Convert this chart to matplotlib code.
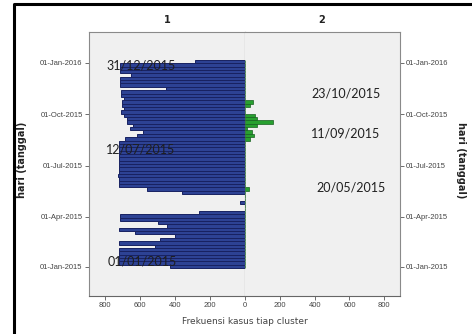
import datetime as dt
import matplotlib
matplotlib.use('Agg')
import matplotlib.pyplot as plt
import matplotlib.dates as mdates
from matplotlib.lines import Line2D

# histogram bins of 6 days, starting 30-Dec-2014
bin_start = dt.date(2014, 12, 30)
bin_days = 6

# cluster 1 counts per bin (bottom -> top)
cluster1 = [430, 720, 720, 720, 720, 720, 514, 720, 486, 400,
            629, 720, 446, 497, 714, 714, 262, 0, 0, 30,
            0, 0, 360, 560, 720, 718, 720, 722, 720, 720,
            719, 720, 720, 721, 720, 720, 718, 720, 686, 617,
            583, 657, 640, 673, 673, 690, 705, 690, 700, 700,
            690, 705, 705, 450, 714, 714, 714, 651, 714, 714,
            714, 286]

# cluster 2 counts per bin
cluster2 = [0, 0, 0, 0, 0, 0, 0, 0, 0, 0,
            0, 0, 0, 0, 0, 0, 0, 0, 0, 0,
            0, 0, 0, 25, 0, 0, 0, 0, 0, 0,
            0, 0, 0, 0, 0, 0, 0, 0, 30, 50,
            40, 10, 67, 158, 67, 60, 0, 0, 29, 44,
            0, 0, 0, 0, 0, 0, 0, 0, 0, 0,
            0, 0]

tick_dates = [dt.date(2015, 1, 1), dt.date(2015, 4, 1), dt.date(2015, 7, 1),
              dt.date(2015, 10, 1), dt.date(2016, 1, 1)]
freq_ticks_left = [200, 400, 600, 800]
freq_ticks_right = [0, 200, 400, 600, 800]

notes_left = ['31/12/2015', '12/07/2015', '01/01/2015']
notes_right = ['23/10/2015', '11/09/2015', '20/05/2015']

blue = '#2d4294'
blue_edge = '#182262'
green = '#28a030'
green_edge = '#176020'
panel_bg = '#f0f0f0'

W, H = 472, 334
fig = plt.figure(figsize=(W / 100, H / 100), dpi=100)

def fx(px):
    return px / W

def fy(py):
    return 1 - py / H

axL = fig.add_axes([fx(89), fy(296), fx(245) - fx(89), fy(32) - fy(296)])
axR = fig.add_axes([fx(245), fy(296), fx(400) - fx(245), fy(32) - fy(296)])

ys = [mdates.date2num(bin_start + dt.timedelta(days=bin_days * i)) for i in range(len(cluster1))]

axL.barh(ys, cluster1, height=bin_days, align='edge', color=blue,
         edgecolor=blue_edge, linewidth=0.7)
axR.barh(ys, cluster2, height=bin_days, align='edge', color=green,
         edgecolor=green_edge, linewidth=0.5)

ylo = mdates.date2num(dt.date(2014, 11, 10))
yhi = mdates.date2num(dt.date(2016, 2, 25))
yt = [mdates.date2num(d) for d in tick_dates]
ylabels = [d.strftime('%d-%b-%Y') for d in tick_dates]

for ax in (axL, axR):
    ax.set_facecolor(panel_bg)
    ax.set_ylim(ylo, yhi)
    ax.set_yticks(yt)
    ax.set_yticklabels(ylabels)
    ax.tick_params(axis='both', labelsize=5.5, labelcolor='#444444',
                   color='#555555', length=3, width=0.6, direction='out', pad=1.5)
    for s in ax.spines.values():
        s.set_color('#8a8a8a')
        s.set_linewidth(0.8)
    ax.spines['bottom'].set_color('#666666')

axL.set_xlim(890, 0)
axL.set_xticks(freq_ticks_left)
axL.spines['right'].set_color('#555555')
axR.set_xlim(0, 890)
axR.set_xticks(freq_ticks_right)
axR.yaxis.tick_right()
axR.spines['left'].set_visible(False)
for ax in (axL, axR):
    for lab in ax.get_xticklabels() + ax.get_yticklabels():
        lab.set_family(['Liberation Sans', 'DejaVu Sans'])
        lab.set_fontsize(5.5)

fig.text(fx(167), fy(20), '1', ha='center', va='center', fontsize=7,
         fontweight='bold', color='#222222')
fig.text(fx(322), fy(20), '2', ha='center', va='center', fontsize=7,
         fontweight='bold', color='#222222')
fig.text(fx(22), fy(160), 'hari (tanggal)', rotation=90, ha='center', va='center',
         fontsize=7, fontweight='bold', color='#222222')
fig.text(fx(461), fy(160), 'hari (tanggal)', rotation=-90, ha='center', va='center',
         fontsize=7, fontweight='bold', color='#222222')
fig.text(fx(245), fy(322), 'Frekuensi kasus tiap cluster', ha='center', va='center',
         fontsize=6.5, color='#444444')

# pasted date notes
for txt, (px, py) in zip(notes_left, [(141, 66), (141, 150), (142, 262)]):
    fig.text(fx(px), fy(py), txt, ha='center', va='center', fontsize=9,
             family=['Lato', 'DejaVu Sans'], color='#1f1f1f')
for txt, (px, py) in zip(notes_right, [(346, 94), (346, 133), (351, 188)]):
    fig.text(fx(px), fy(py), txt, ha='center', va='center', fontsize=9,
             family=['Lato', 'DejaVu Sans'], color='#1f1f1f')

# outer frame
fig.add_artist(Line2D([fx(13.5), fx(13.5), 1.0], [0.0, fy(3.5), fy(3.5)],
                      transform=fig.transFigure, color='black', linewidth=2.2))

fig.savefig('out.png', dpi=100)
